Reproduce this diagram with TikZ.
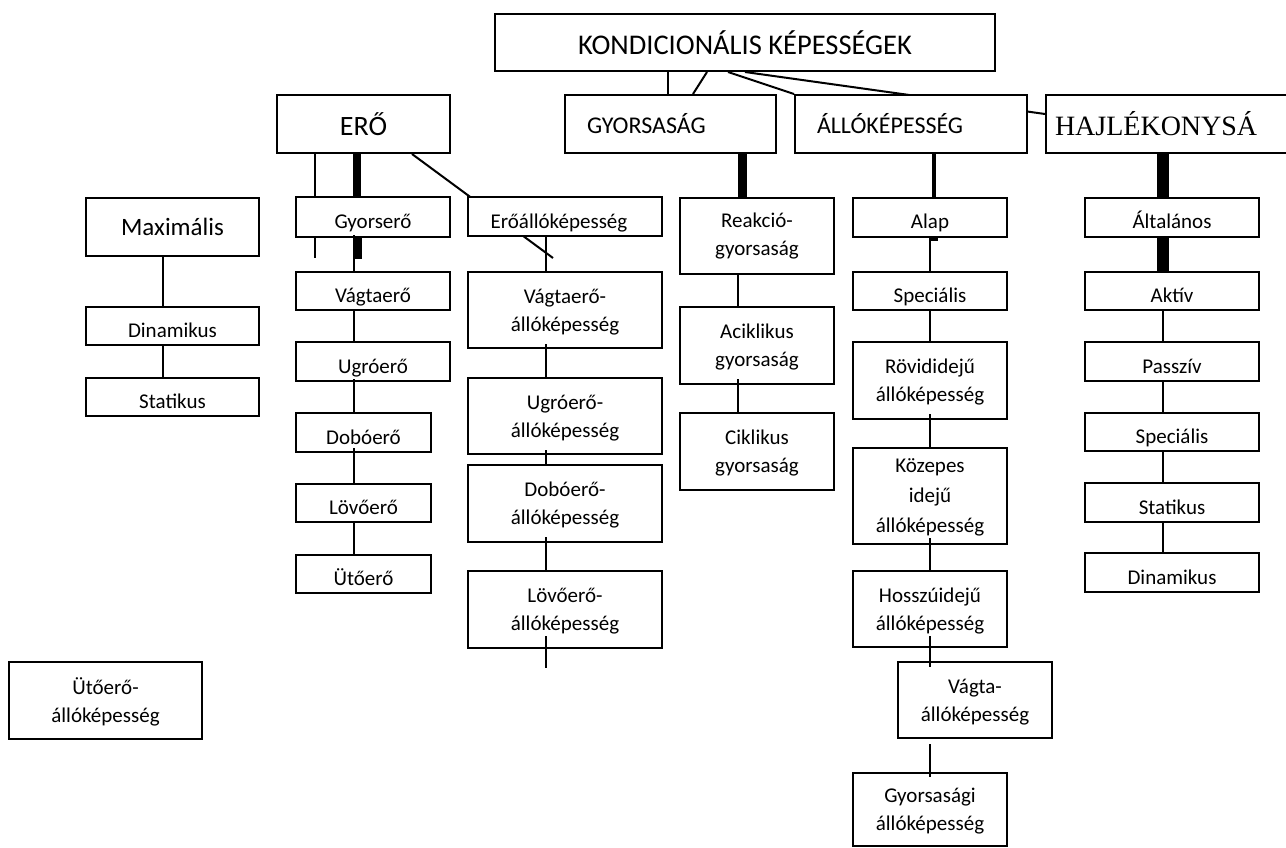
\documentclass[tikz,border=0pt]{standalone}
\usepackage{fontspec}
\setmainfont{Carlito}
\newfontfamily\hajlfont{Liberation Serif}
\usetikzlibrary{backgrounds}

\begin{document}
\begin{tikzpicture}[x=1pt,y=-1pt,line width=2pt]
        \tikzstyle{every node}+=[inner sep=0pt]
        \tikzstyle{box}=[draw,fill=white,align=center,font=\fontsize{21}{28}\selectfont]
        \tikzstyle{onebox}=[box,text height=28pt,text depth=5pt]
        \tikzstyle{twobox}=[box,text depth=0pt]
        \tikzstyle{bigbox}=[box,align=left,inner xsep=22pt,minimum height=58pt,font=\fontsize{24}{29}\selectfont]
        \tikzstyle{fat}=[line width=8pt]
        \useasboundingbox (0,0) rectangle (1286,848);
        \clip (0,0) rectangle (1286,848);
        % felső sor
        \node [box,minimum width=500pt,minimum height=57pt,font=\fontsize{28.5}{34}\selectfont] (kond) at (745,42.5) {KONDICIONÁLIS KÉPESSÉGEK};
        \node [box,minimum width=173pt,minimum height=58pt,font=\fontsize{28}{34}\selectfont] (ero) at (363.5,124) {ERŐ};
        \node [bigbox,text width=167pt] (gyors) at (670.5,124) {GYORSASÁG};
        \node [bigbox,text width=188pt] (all) at (911,124) {ÁLLÓKÉPESSÉG};
        \node [bigbox,inner xsep=9pt,text width=300pt,font=\hajlfont\fontsize{28}{34}\selectfont] (hajl) at (1205,124) {HAJLÉKONYSÁ};
        % erő
        \node [box,minimum width=173pt,minimum height=58pt,font=\fontsize{25}{30}\selectfont] (maxi) at (172.5,227) {Maximális};
        \node [onebox,minimum width=173pt,minimum height=38pt] (dinam) at (172.5,325.5) {Dinamikus};
        \node [onebox,minimum width=173pt,minimum height=38pt] (stat) at (172.5,397) {Statikus};
        \node [onebox,minimum width=154pt,minimum height=40pt] (gyorsero) at (373,217) {Gyorserő};
        \node [onebox,minimum width=154pt,minimum height=38pt] (vagtaero) at (373,291) {Vágtaerő};
        \node [onebox,minimum width=154pt,minimum height=39pt] (ugroero) at (373,361.5) {Ugróerő};
        \node [onebox,minimum width=135pt,minimum height=39pt] (doboero) at (363.5,432.5) {Dobóerő};
        \node [onebox,minimum width=135pt,minimum height=38pt] (lovoero) at (363.5,503) {Lövőerő};
        \node [onebox,minimum width=135pt,minimum height=38pt] (utoero) at (363.5,574) {Ütőerő};
        \node [onebox,minimum width=194pt,minimum height=39pt] (eroall) at (565,216.5) {Erőállóképesség\hspace{12pt}};
        \node [twobox,minimum width=194pt,minimum height=76pt] (vagtaeroall) at (565,310) {Vágtaerő-\\állóképesség};
        \node [twobox,minimum width=194pt,minimum height=76pt] (ugroeroall) at (565,416) {Ugróerő-\\állóképesség};
        \node [twobox,minimum width=194pt,minimum height=77pt] (doboeroall) at (565,503.5) {Dobóerő-\\állóképesség};
        \node [twobox,minimum width=194pt,minimum height=77pt] (lovoeroall) at (565,609.5) {Lövőerő-\\állóképesség};
        \node [twobox,minimum width=193pt,minimum height=77pt] (utoeroall) at (105.5,700.5) {Ütőerő-\\állóképesség};
        % gyorsaság
        \node [box,minimum width=154pt,minimum height=76pt] (reakcio) at (757,236) {Reakció-\\gyorsaság};
        \node [twobox,minimum width=154pt,minimum height=77pt] (aciklikus) at (757,345.5) {Aciklikus\\gyorsaság};
        \node [twobox,minimum width=154pt,minimum height=77pt] (ciklikus) at (757,451.5) {Ciklikus\\gyorsaság};
        % állóképesség
        \node [onebox,minimum width=154pt,minimum height=39pt] (alap) at (930,217.5) {Alap};
        \node [onebox,minimum width=154pt,minimum height=38pt] (specialis) at (930,291) {Speciális};
        \node [twobox,minimum width=154pt,minimum height=77pt] (rovid) at (930,380.5) {Rövididejű\\állóképesség};
        \node [twobox,minimum width=154pt,minimum height=96pt,font=\fontsize{21}{30}\selectfont] (kozepes) at (930,496) {Közepes\\idejű\\állóképesség};
        \node [twobox,minimum width=154pt,minimum height=76pt] (hosszu) at (930,609) {Hosszúidejű\\állóképesség};
        \node [twobox,minimum width=154pt,minimum height=76pt] (vagta) at (975,700) {Vágta-\\állóképesség};
        \node [twobox,minimum width=154pt,minimum height=73pt] (gyorsasagi) at (930,809.5) {Gyorsasági\\állóképesség};
        % hajlékonyság
        \node [onebox,minimum width=174pt,minimum height=39pt] (altalanos) at (1172,217.5) {Általános};
        \node [onebox,minimum width=174pt,minimum height=38pt] (aktiv) at (1172,291) {Aktív};
        \node [onebox,minimum width=174pt,minimum height=39pt] (passziv) at (1172,361.5) {Passzív};
        \node [onebox,minimum width=174pt,minimum height=38pt] (specialis2) at (1172,432) {Speciális};
        \node [onebox,minimum width=174pt,minimum height=39pt] (statikus2) at (1172,502.5) {Statikus};
        \node [onebox,minimum width=174pt,minimum height=39pt] (dinamikus2) at (1172,572.5) {Dinamikus};
        % szabad végek
        \coordinate (erofree) at (315,258);
        \coordinate (eroallfree) at (553,258);
        \coordinate (gystub) at (358,259);
        \coordinate (alapstub) at (934,241);
        \coordinate (lovofree) at (546,668);
        % a dobozok mögött
        \begin{scope}[on background layer]
        \draw [line width=2pt] (ero.south -| erofree) -- (erofree);
        \draw [line width=2pt] ([xshift=48.5pt]ero.south) -- (eroallfree);
        \draw [line width=2pt] (kond.south) -- ([yshift=10pt]hajl.west);
        \end{scope}
        \draw ([xshift=-77pt]kond.south) -- ([xshift=-2.5pt]gyors.north);
        \draw ([xshift=-38pt]kond.south) -- ([xshift=22.5pt]gyors.north);
        \draw ([xshift=-17pt]kond.south) -- (all.north west);
        % vastag vonalak
        \draw [fat] ([xshift=-6.5pt]ero.south) -- ([xshift=-16pt]gyorsero.north);
        \draw [fat] ([xshift=-15pt]gyorsero.south) -- (gystub);
        \draw [line width=9pt] ([xshift=72pt]gyors.south) -- ([xshift=-14.5pt]reakcio.north);
        \draw [line width=4pt] ([xshift=23pt]all.south) -- ([xshift=4pt]alap.north);
        \draw [fat] ([xshift=4pt]alap.south) -- (alapstub);
        \draw [line width=12pt] ([xshift=-42pt]hajl.south) -- ([xshift=-9pt]altalanos.north);
        \draw [line width=12pt] ([xshift=-9pt]altalanos.south) -- ([xshift=-9pt]aktiv.north);
        % erő
        \draw ([xshift=-9.5pt]maxi.south) -- ([xshift=-9.5pt]dinam.north);
        \draw ([xshift=-9.5pt]dinam.south) -- ([xshift=-9.5pt]stat.north);
        \draw ([xshift=-19pt,yshift=3pt]gyorsero.south) -- ([xshift=-19pt]vagtaero.north);
        \draw ([xshift=-19pt]vagtaero.south) -- ([xshift=-19pt]ugroero.north);
        \draw ([xshift=-19pt,yshift=3pt]ugroero.south) -- ([xshift=-9.5pt]doboero.north);
        \draw ([xshift=-9.5pt,yshift=5pt]doboero.south) -- ([xshift=-9.5pt]lovoero.north);
        \draw ([xshift=-9.5pt,yshift=2pt]lovoero.south) -- ([xshift=-9.5pt]utoero.north);
        \draw ([xshift=-19pt,yshift=2pt]eroall.south) -- ([xshift=-19pt]vagtaeroall.north);
        \draw ([xshift=-19pt,yshift=5pt]vagtaeroall.south) -- ([xshift=-19pt]ugroeroall.north);
        \draw ([xshift=-19pt,yshift=5pt]ugroeroall.south) -- ([xshift=-19pt]doboeroall.north);
        \draw ([xshift=-19pt,yshift=6pt]doboeroall.south) -- ([xshift=-19pt]lovoeroall.north);
        \draw ([xshift=-19pt,yshift=13pt]lovoeroall.south) -- (lovofree);
        % gyorsaság
        \draw ([xshift=-19pt,yshift=1pt]reakcio.south) -- ([xshift=-19pt]aciklikus.north);
        \draw ([xshift=-19pt,yshift=6pt]aciklikus.south) -- ([xshift=-19pt]ciklikus.north);
        % állóképesség
        \draw (alap.south) -- (specialis.north);
        \draw (specialis.south) -- (rovid.north);
        \draw ([yshift=6pt]rovid.south) -- (kozepes.north);
        \draw ([yshift=7pt]kozepes.south) -- (hosszu.north);
        \draw ([yshift=12pt]hosszu.south) -- ([xshift=-45pt,yshift=-6pt]vagta.north);
        \draw ([xshift=-45pt,yshift=-5pt]vagta.south) -- ([yshift=-5pt]gyorsasagi.north);
        % hajlékonyság
        \draw ([xshift=-9pt]aktiv.south) -- ([xshift=-9pt]passziv.north);
        \draw ([xshift=-9pt]passziv.south) -- ([xshift=-9pt]specialis2.north);
        \draw ([xshift=-9pt]specialis2.south) -- ([xshift=-9pt]statikus2.north);
        \draw ([xshift=-9pt]statikus2.south) -- ([xshift=-9pt]dinamikus2.north);
\end{tikzpicture}
\end{document}
